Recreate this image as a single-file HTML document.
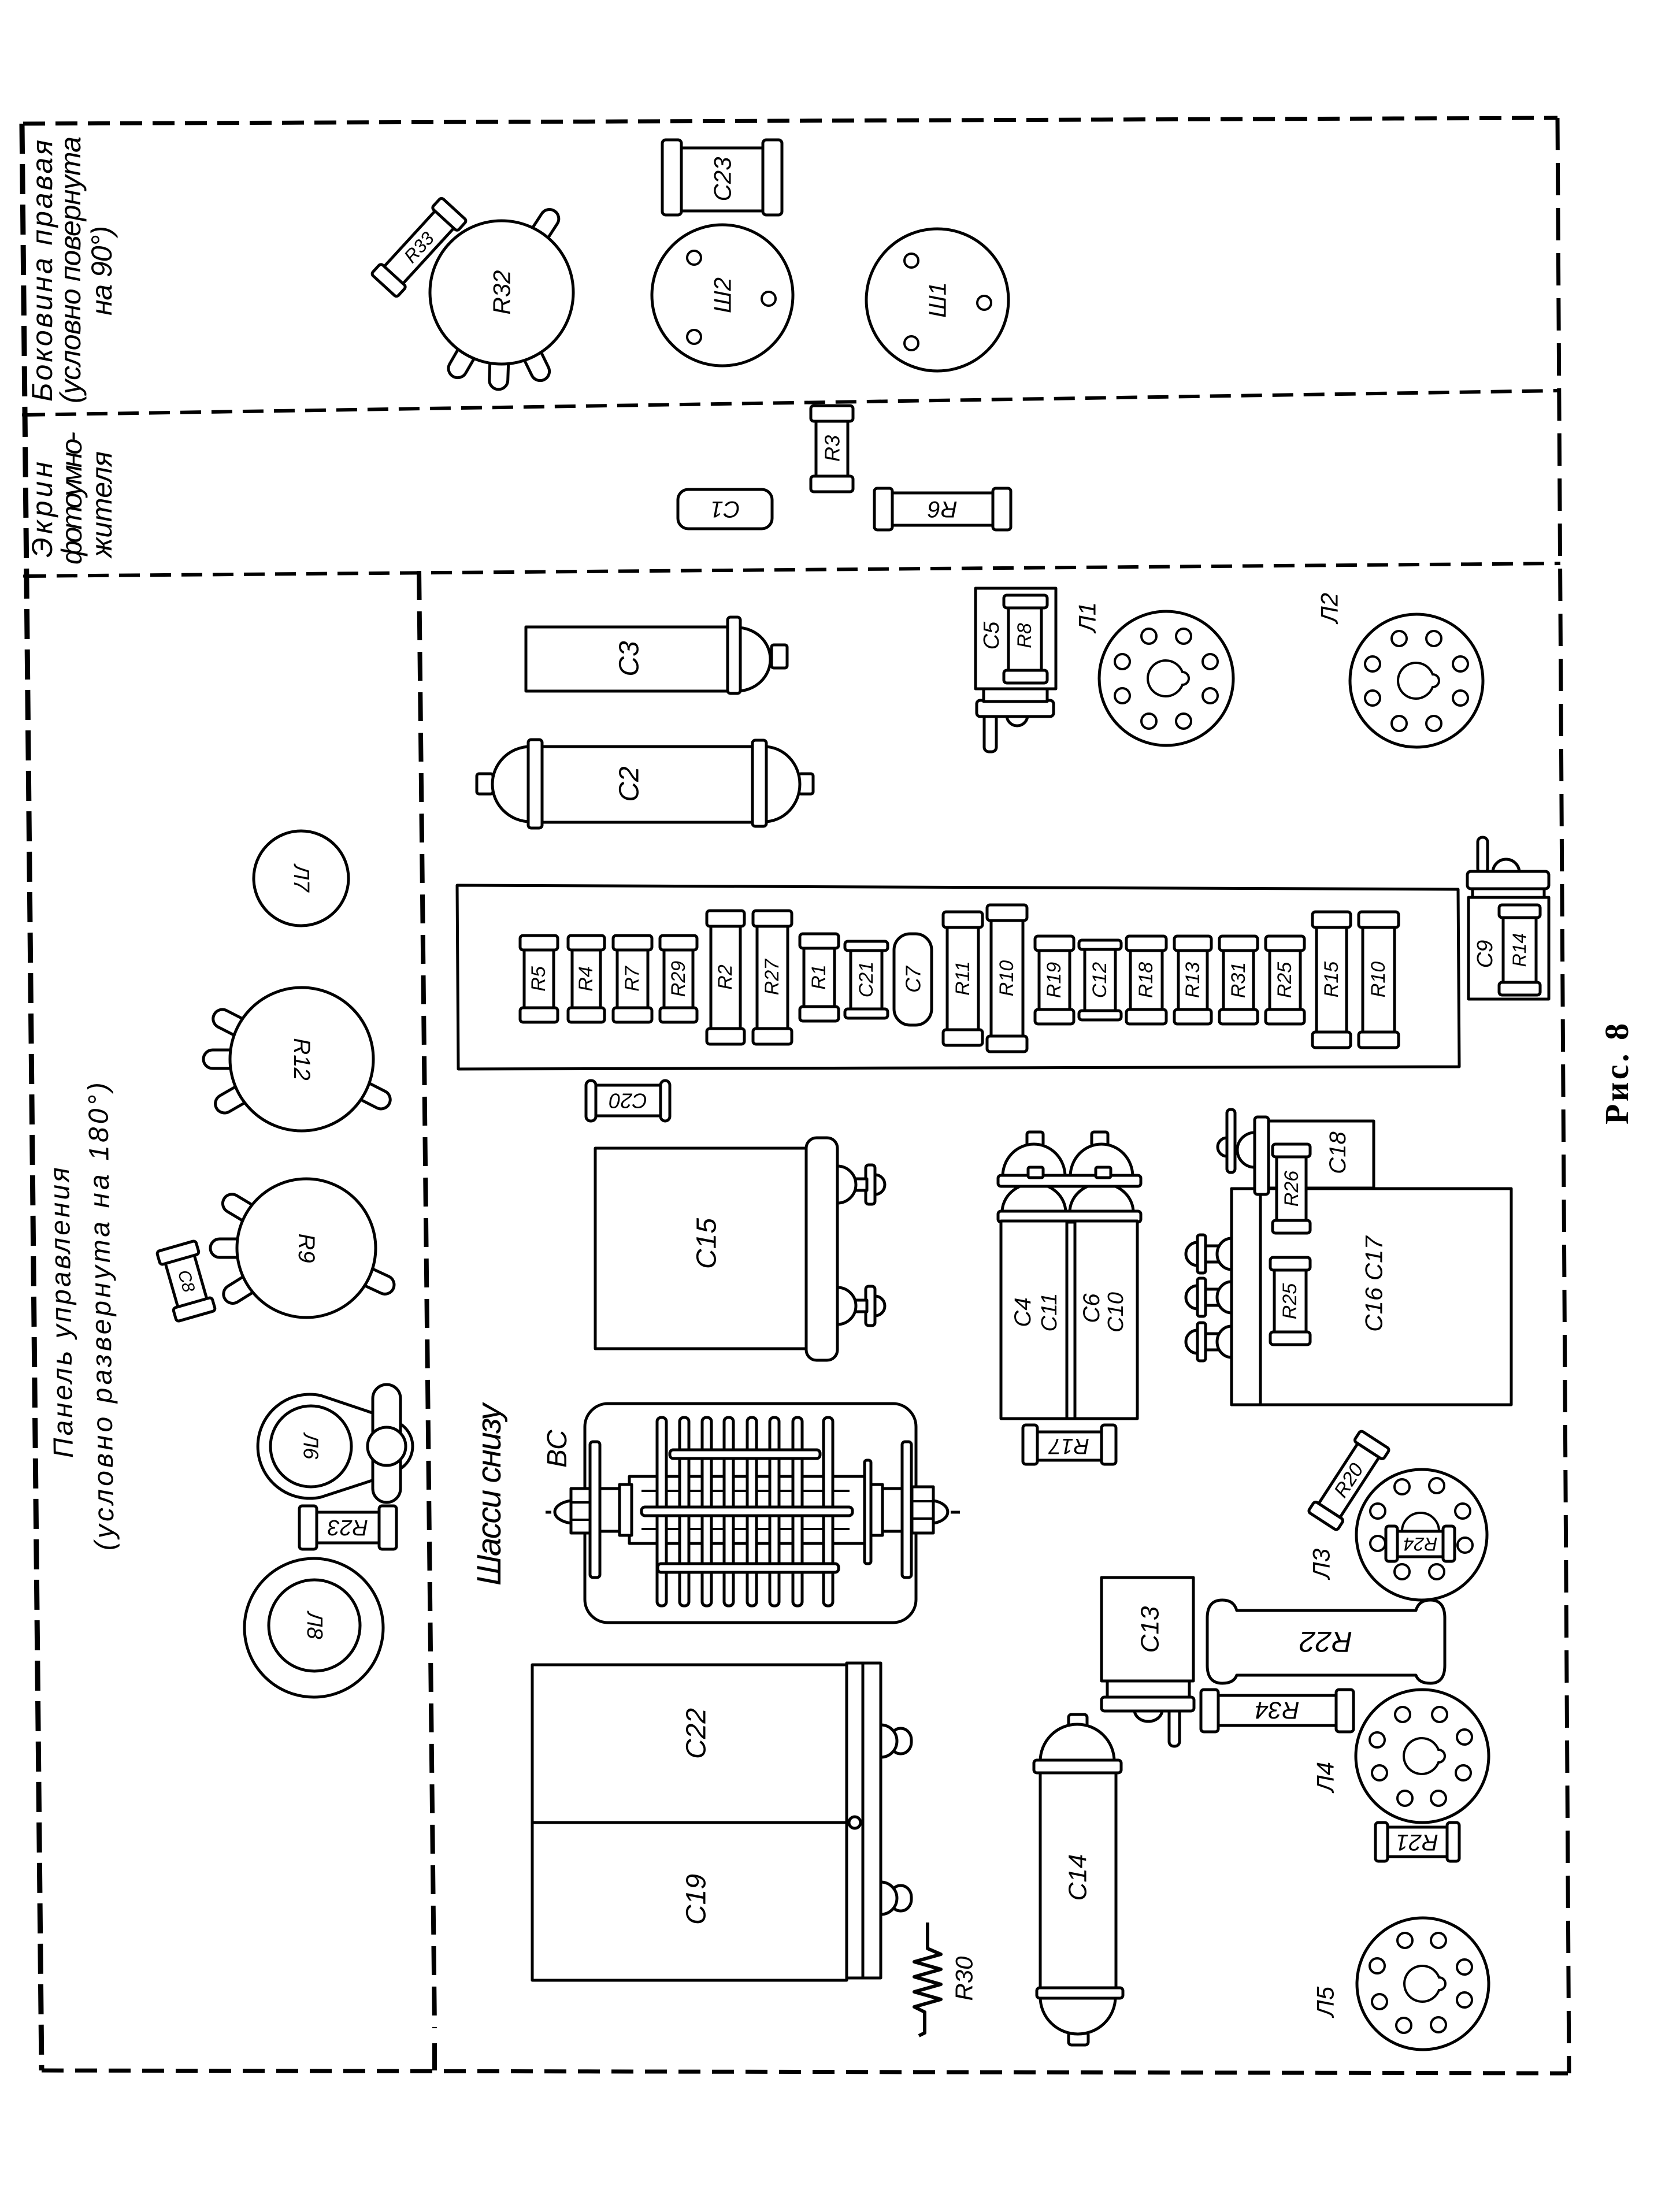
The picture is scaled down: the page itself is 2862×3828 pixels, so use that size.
<!DOCTYPE html>
<html><head><meta charset="utf-8">
<style>
html,body{margin:0;padding:0;background:#fff;}
svg{display:block;}
text{font-family:"Liberation Sans","DejaVu Sans",sans-serif;font-style:italic;fill:#000;}
.c{text-anchor:middle;dominant-baseline:central;}
.k{fill:#fff;stroke:#000;stroke-width:5;stroke-linejoin:round;}
.h{fill:#fff;stroke:#000;stroke-width:4;}
.d{fill:none;stroke:#000;}
</style></head><body>
<svg width="2862" height="3828" viewBox="0 0 2862 3828" xmlns="http://www.w3.org/2000/svg">
<rect width="2862" height="3828" fill="#fff"/>

<!-- FRAME -->
<line class="d" x1="40" y1="214" x2="2695" y2="204" stroke-width="7" stroke-dasharray="38 18"/>
<line class="d" x1="38" y1="214" x2="72" y2="3583" stroke-width="9" stroke-dasharray="52 18"/>
<line class="d" x1="72" y1="3583" x2="2713" y2="3588" stroke-width="7" stroke-dasharray="38 20"/>
<line class="d" x1="2695" y1="204" x2="2715" y2="3588" stroke-width="7" stroke-dasharray="56 22"/>
<line class="d" x1="42" y1="718" x2="2698" y2="676" stroke-width="6" stroke-dasharray="36 18"/>
<line class="d" x1="44" y1="997" x2="2700" y2="975" stroke-width="6" stroke-dasharray="36 18"/>
<line class="d" x1="725" y1="988" x2="752" y2="3510" stroke-width="8" stroke-dasharray="50 20"/>
<line class="d" x1="752" y1="3536" x2="752" y2="3583" stroke-width="8"/>
<line class="d" x1="38" y1="718" x2="60" y2="718" stroke-width="5"/>
<line class="d" x1="40" y1="997" x2="62" y2="997" stroke-width="5"/>

<!-- LEFT LABELS -->
<text transform="translate(90,695) rotate(-90)" font-size="50" textLength="453">Боковина правая</text>
<text transform="translate(139,698) rotate(-90)" font-size="50" textLength="462">(условно повернута</text>
<text transform="translate(193,546) rotate(-90)" font-size="50" textLength="155">на 90°)</text>
<text transform="translate(90,965) rotate(-90)" font-size="50" textLength="166">Экрин</text>
<text transform="translate(141,977) rotate(-90)" font-size="50" textLength="230">фотоумно-</text>
<text transform="translate(193,965) rotate(-90)" font-size="50" textLength="184">жителя</text>
<text transform="translate(126,2523) rotate(-90.8)" font-size="48" textLength="503">Панель управления</text>
<text transform="translate(197,2683) rotate(-90.8)" font-size="48" textLength="810">(условно развернута на 180°)</text>

<!-- C23 -->
<rect class="k" x="1179" y="256" width="141" height="109"/>
<rect class="k" x="1146" y="242" width="33" height="130" rx="6"/>
<rect class="k" x="1320" y="242" width="33" height="130" rx="6"/>
<text class="c" transform="translate(1250,310) rotate(-90)" font-size="42">C23</text>

<!-- R32 -->
<g transform="translate(868,506)">
<rect class="k" x="108" y="-16" width="60" height="32" rx="16" transform="rotate(-57)"/>
<rect class="k" x="108" y="-16" width="60" height="32" rx="16" transform="rotate(64)"/>
<rect class="k" x="108" y="-16" width="60" height="32" rx="16" transform="rotate(92)"/>
<rect class="k" x="108" y="-16" width="60" height="32" rx="16" transform="rotate(120)"/>
<circle class="k" r="124"/>
<text class="c" transform="rotate(-90)" font-size="42">R32</text>
</g>
<!-- R33 -->
<g transform="translate(725,428) rotate(-47.5)">
<rect class="k" x="-66" y="-22" width="132" height="44"/>
<rect class="k" x="-90" y="-30" width="25" height="60" rx="5"/>
<rect class="k" x="65" y="-30" width="25" height="60" rx="5"/>
<text class="c" font-size="32">R33</text>
</g>

<!-- Ш2 / Ш1 -->
<g transform="translate(1250,511)">
<circle class="k" r="122"/>
<circle class="h" cx="-49" cy="-65" r="12"/><circle class="h" cx="80" cy="6" r="12"/><circle class="h" cx="-49" cy="72" r="12"/>
<text class="c" transform="rotate(-90)" font-size="42">Ш2</text>
</g>
<g transform="translate(1622,519)">
<circle class="k" r="123"/>
<circle class="h" cx="-45" cy="-68" r="12"/><circle class="h" cx="81" cy="5" r="12"/><circle class="h" cx="-45" cy="75" r="12"/>
<text class="c" transform="rotate(-90)" font-size="42">Ш1</text>
</g>

<!-- R3, C1, R6 -->
<rect class="k" x="1412" y="727" width="55" height="99"/>
<rect class="k" x="1403" y="702" width="73" height="27" rx="5"/>
<rect class="k" x="1403" y="824" width="73" height="27" rx="5"/>
<text class="c" transform="translate(1440,776) rotate(-90)" font-size="36">R3</text>
<rect class="k" x="1173" y="847" width="163" height="68" rx="18"/>
<text class="c" transform="translate(1255,881) rotate(180)" font-size="40">C1</text>
<rect class="k" x="1542" y="853" width="178" height="56"/>
<rect class="k" x="1513" y="845" width="31" height="72" rx="5"/>
<rect class="k" x="1718" y="845" width="31" height="72" rx="5"/>
<text class="c" transform="translate(1631,881) rotate(180)" font-size="40">R6</text>

<!-- C3 -->
<rect class="k" x="1335" y="1116" width="27" height="40" rx="4"/>
<path class="k" d="M1275,1086 A58 55 0 0 1 1275,1196 Z"/>
<rect class="k" x="910" y="1085" width="351" height="111"/>
<rect class="k" x="1259" y="1068" width="22" height="132" rx="5"/>
<text class="c" transform="translate(1089,1140) rotate(-90)" font-size="48">C3</text>

<!-- C2 -->
<rect class="k" x="825" y="1339" width="28" height="35" rx="4"/>
<rect class="k" x="1382" y="1339" width="25" height="35" rx="4"/>
<path class="k" d="M918,1292 A66 65 0 0 0 918,1422 Z"/>
<path class="k" d="M1322,1292 A62 65 0 0 1 1322,1422 Z"/>
<rect class="k" x="935" y="1292" width="368" height="131"/>
<rect class="k" x="914" y="1280" width="24" height="153" rx="5"/>
<rect class="k" x="1302" y="1281" width="24" height="149" rx="5"/>
<text class="c" transform="translate(1089,1357) rotate(-90)" font-size="48">C2</text>

<!-- C5 / R8 -->
<rect class="k" x="1703" y="1235" width="21" height="66" rx="8"/>
<path class="k" d="M1742,1238 A18 18 0 0 0 1778,1238 Z"/>
<rect class="k" x="1690" y="1212" width="133" height="28" rx="6"/>
<rect class="k" x="1702" y="1190" width="110" height="24"/>
<rect class="k" x="1688" y="1018" width="139" height="174"/>
<rect class="k" x="1745" y="1050" width="57" height="112"/>
<rect class="k" x="1737" y="1030" width="75" height="22" rx="5"/>
<rect class="k" x="1737" y="1160" width="75" height="22" rx="5"/>
<text class="c" transform="translate(1716,1100) rotate(-90)" font-size="38">C5</text>
<text class="c" transform="translate(1773,1100) rotate(-90)" font-size="34">R8</text>

<!-- Sockets Л1 Л2 -->
<g transform="translate(2018,1174)">
<circle class="k" r="116"/>
<circle class="h" cx="-30" cy="-73" r="13"/><circle class="h" cx="30" cy="-73" r="13"/>
<circle class="h" cx="-76" cy="-29" r="13"/><circle class="h" cx="76" cy="-29" r="13"/>
<circle class="h" cx="-76" cy="30" r="13"/><circle class="h" cx="76" cy="30" r="13"/>
<circle class="h" cx="-30" cy="74" r="13"/><circle class="h" cx="30" cy="74" r="13"/>
<path class="h" d="M28,-11 A31 31 0 1 0 28,11 A11 11 0 0 0 28,-11 Z"/>
</g>
<text class="c" transform="translate(1881,1068) rotate(-90)" font-size="42">Л1</text>
<g transform="translate(2451,1178)">
<circle class="k" r="115"/>
<circle class="h" cx="-30" cy="-73" r="13"/><circle class="h" cx="30" cy="-73" r="13"/>
<circle class="h" cx="-76" cy="-29" r="13"/><circle class="h" cx="76" cy="-29" r="13"/>
<circle class="h" cx="-76" cy="30" r="13"/><circle class="h" cx="76" cy="30" r="13"/>
<circle class="h" cx="-30" cy="74" r="13"/><circle class="h" cx="30" cy="74" r="13"/>
<path class="h" d="M28,-11 A31 31 0 1 0 28,11 A11 11 0 0 0 28,-11 Z"/>
</g>
<text class="c" transform="translate(2300,1052) rotate(-90)" font-size="42">Л2</text>

<!-- STRIP -->
<polygon class="k" points="791,1532 2523,1539 2525,1846 793,1850"/>
<rect class="k" x="907" y="1642" width="51" height="104"/><rect class="k" x="900" y="1619" width="65" height="25" rx="5"/><rect class="k" x="900" y="1744" width="65" height="25" rx="5"/>
<text class="c" transform="translate(932,1694) rotate(-90)" font-size="34">R5</text>
<rect class="k" x="990" y="1642" width="49" height="104"/><rect class="k" x="983" y="1619" width="63" height="25" rx="5"/><rect class="k" x="983" y="1744" width="63" height="25" rx="5"/>
<text class="c" transform="translate(1014,1694) rotate(-90)" font-size="34">R4</text>
<rect class="k" x="1068" y="1642" width="53" height="104"/><rect class="k" x="1061" y="1619" width="67" height="25" rx="5"/><rect class="k" x="1061" y="1744" width="67" height="25" rx="5"/>
<text class="c" transform="translate(1094,1694) rotate(-90)" font-size="34">R7</text>
<rect class="k" x="1149" y="1642" width="50" height="104"/><rect class="k" x="1142" y="1619" width="64" height="25" rx="5"/><rect class="k" x="1142" y="1744" width="64" height="25" rx="5"/>
<text class="c" transform="translate(1174,1694) rotate(-90)" font-size="34">R29</text>
<rect class="k" x="1230" y="1601" width="51" height="181"/><rect class="k" x="1223" y="1576" width="65" height="27" rx="5"/><rect class="k" x="1223" y="1780" width="65" height="27" rx="5"/>
<text class="c" transform="translate(1255,1691) rotate(-90)" font-size="34">R2</text>
<rect class="k" x="1310" y="1601" width="53" height="181"/><rect class="k" x="1303" y="1576" width="67" height="27" rx="5"/><rect class="k" x="1303" y="1780" width="67" height="27" rx="5"/>
<text class="c" transform="translate(1336,1691) rotate(-90)" font-size="34">R27</text>
<rect class="k" x="1391" y="1639" width="53" height="105"/><rect class="k" x="1384" y="1616" width="67" height="25" rx="5"/><rect class="k" x="1384" y="1742" width="67" height="25" rx="5"/>
<text class="c" transform="translate(1417,1691) rotate(-90)" font-size="34">R1</text>
<rect class="k" x="1472" y="1643" width="54" height="105"/><rect class="k" x="1462" y="1629" width="74" height="16" rx="5"/><rect class="k" x="1462" y="1746" width="74" height="16" rx="5"/>
<text class="c" transform="translate(1499,1695) rotate(-90)" font-size="34">C21</text>
<rect class="k" x="1547" y="1616" width="65" height="158" rx="28"/>
<text class="c" transform="translate(1580,1695) rotate(-90)" font-size="36">C7</text>
<rect class="k" x="1639" y="1603" width="54" height="183"/><rect class="k" x="1632" y="1578" width="68" height="27" rx="5"/><rect class="k" x="1632" y="1782" width="68" height="27" rx="5"/>
<text class="c" transform="translate(1666,1693) rotate(-90)" font-size="34">R11</text>
<rect class="k" x="1715" y="1591" width="55" height="206"/><rect class="k" x="1708" y="1566" width="69" height="27" rx="5"/><rect class="k" x="1708" y="1793" width="69" height="27" rx="5"/>
<text class="c" transform="translate(1742,1693) rotate(-90)" font-size="34">R10</text>
<rect class="k" x="1798" y="1643" width="53" height="106"/><rect class="k" x="1791" y="1620" width="67" height="25" rx="5"/><rect class="k" x="1791" y="1747" width="67" height="25" rx="5"/>
<text class="c" transform="translate(1824,1696) rotate(-90)" font-size="34">R19</text>
<rect class="k" x="1877" y="1641" width="53" height="110"/><rect class="k" x="1867" y="1627" width="73" height="16" rx="5"/><rect class="k" x="1867" y="1749" width="73" height="16" rx="5"/>
<text class="c" transform="translate(1903,1696) rotate(-90)" font-size="34">C12</text>
<rect class="k" x="1956" y="1643" width="55" height="106"/><rect class="k" x="1949" y="1620" width="69" height="25" rx="5"/><rect class="k" x="1949" y="1747" width="69" height="25" rx="5"/>
<text class="c" transform="translate(1983,1696) rotate(-90)" font-size="34">R18</text>
<rect class="k" x="2039" y="1643" width="50" height="106"/><rect class="k" x="2032" y="1620" width="64" height="25" rx="5"/><rect class="k" x="2032" y="1747" width="64" height="25" rx="5"/>
<text class="c" transform="translate(2064,1696) rotate(-90)" font-size="34">R13</text>
<rect class="k" x="2117" y="1643" width="52" height="106"/><rect class="k" x="2110" y="1620" width="66" height="25" rx="5"/><rect class="k" x="2110" y="1747" width="66" height="25" rx="5"/>
<text class="c" transform="translate(2143,1696) rotate(-90)" font-size="34">R31</text>
<rect class="k" x="2197" y="1643" width="53" height="106"/><rect class="k" x="2190" y="1620" width="67" height="25" rx="5"/><rect class="k" x="2190" y="1747" width="67" height="25" rx="5"/>
<text class="c" transform="translate(2223,1696) rotate(-90)" font-size="34">R25</text>
<rect class="k" x="2278" y="1603" width="52" height="187"/><rect class="k" x="2271" y="1578" width="66" height="27" rx="5"/><rect class="k" x="2271" y="1786" width="66" height="27" rx="5"/>
<text class="c" transform="translate(2304,1695) rotate(-90)" font-size="34">R15</text>
<rect class="k" x="2358" y="1603" width="55" height="187"/><rect class="k" x="2351" y="1578" width="69" height="27" rx="5"/><rect class="k" x="2351" y="1786" width="69" height="27" rx="5"/>
<text class="c" transform="translate(2385,1695) rotate(-90)" font-size="34">R10</text>

<!-- C9 / R14 -->
<rect class="k" x="2557" y="1449" width="17" height="62" rx="8"/>
<path class="k" d="M2583,1510 A23 23 0 0 1 2629,1510 Z"/>
<rect class="k" x="2548" y="1536" width="124" height="19"/>
<rect class="k" x="2539" y="1508" width="141" height="30" rx="6"/>
<rect class="k" x="2541" y="1553" width="139" height="176"/>
<rect class="k" x="2601" y="1586" width="57" height="116"/>
<rect class="k" x="2594" y="1566" width="71" height="22" rx="5"/>
<rect class="k" x="2594" y="1700" width="71" height="22" rx="5"/>
<text class="c" transform="translate(2570,1651) rotate(-90)" font-size="38">C9</text>
<text class="c" transform="translate(2629,1644) rotate(-90)" font-size="32">R14</text>

<!-- C20 -->
<rect class="k" x="1031" y="1878" width="112" height="53"/>
<rect class="k" x="1014" y="1870" width="17" height="70" rx="8"/>
<rect class="k" x="1143" y="1870" width="16" height="70" rx="8"/>
<text class="c" transform="translate(1087,1905) rotate(180)" font-size="36">C20</text>

<!-- C15 -->
<path class="k" d="M1514,2033 A17 17 0 0 1 1514,2067 Z"/>
<rect class="k" x="1498" y="2016" width="16" height="68" rx="5"/>
<rect class="k" x="1478" y="2040" width="22" height="20"/>
<path class="k" d="M1449,2018 A32 32 0 0 1 1449,2082 Z"/>
<path class="k" d="M1514,2243 A17 17 0 0 1 1514,2277 Z"/>
<rect class="k" x="1498" y="2226" width="16" height="68" rx="5"/>
<rect class="k" x="1478" y="2250" width="22" height="20"/>
<path class="k" d="M1449,2228 A32 32 0 0 1 1449,2292 Z"/>
<rect class="k" x="1030" y="1987" width="372" height="347"/>
<rect class="k" x="1395" y="1969" width="54" height="385" rx="18"/>
<text class="c" transform="translate(1223,2152) rotate(-90)" font-size="48">C15</text>

<!-- Шасси снизу / ВС -->
<text transform="translate(866,2744) rotate(-90)" font-size="58" textLength="315">Шасси снизу</text>
<text transform="translate(980,2540) rotate(-90)" font-size="48">ВС</text>

<!-- ВС variable capacitor -->
<rect class="k" x="1012" y="2429" width="573" height="379" rx="40"/>
<rect class="k" x="1021" y="2495" width="17" height="235" rx="5"/>
<rect class="k" x="1561" y="2495" width="16" height="235" rx="5"/>
<rect class="k" x="1089" y="2555" width="407" height="116"/>
<line class="d" x1="1110" y1="2580" x2="1470" y2="2580" stroke-width="4"/>
<line class="d" x1="1110" y1="2646" x2="1470" y2="2646" stroke-width="4"/>
<rect class="k" x="1137" y="2453" width="16" height="326" rx="7"/>
<rect class="k" x="1176" y="2453" width="16" height="326" rx="7"/>
<rect class="k" x="1215" y="2453" width="16" height="326" rx="7"/>
<rect class="k" x="1253" y="2453" width="16" height="326" rx="7"/>
<rect class="k" x="1293" y="2453" width="16" height="326" rx="7"/>
<rect class="k" x="1332" y="2453" width="16" height="326" rx="7"/>
<rect class="k" x="1372" y="2453" width="16" height="326" rx="7"/>
<rect class="k" x="1425" y="2453" width="16" height="326" rx="7"/>
<rect class="k" x="1159" y="2509" width="260" height="15" rx="6"/>
<rect class="k" x="1110" y="2608" width="365" height="15" rx="6"/>
<rect class="k" x="1138" y="2706" width="313" height="15" rx="6"/>
<rect class="k" x="1072" y="2569" width="21" height="88"/>
<rect class="k" x="1038" y="2576" width="34" height="74"/>
<rect class="k" x="988" y="2576" width="33" height="77"/>
<line class="d" x1="988" y1="2600" x2="1021" y2="2600" stroke-width="4"/>
<line class="d" x1="988" y1="2630" x2="1021" y2="2630" stroke-width="4"/>
<path class="k" d="M988,2597 A36 20 0 0 0 988,2636 Z"/>
<line class="d" x1="944" y1="2617" x2="954" y2="2617" stroke-width="5"/>
<rect class="k" x="1496" y="2527" width="11" height="179" rx="4"/>
<rect class="k" x="1507" y="2569" width="20" height="88"/>
<rect class="k" x="1527" y="2576" width="34" height="74"/>
<rect class="k" x="1578" y="2573" width="37" height="80"/>
<line class="d" x1="1578" y1="2598" x2="1615" y2="2598" stroke-width="4"/>
<line class="d" x1="1578" y1="2628" x2="1615" y2="2628" stroke-width="4"/>
<path class="k" d="M1615,2597 A32 20 0 0 1 1615,2636 Z"/>
<line class="d" x1="1645" y1="2617" x2="1661" y2="2617" stroke-width="5"/>

<!-- C22 / C19 -->
<rect class="k" x="1540" y="2991" width="37" height="44" rx="20"/>
<path class="k" d="M1524,2985 A28 28 0 0 1 1524,3041 Z"/>
<rect class="k" x="1540" y="3263" width="37" height="44" rx="20"/>
<path class="k" d="M1524,3257 A28 28 0 0 1 1524,3313 Z"/>
<rect class="k" x="921" y="2881" width="544" height="546"/>
<line class="d" x1="921" y1="3154" x2="1465" y2="3154" stroke-width="5"/>
<rect class="k" x="1465" y="2878" width="28" height="545"/>
<rect class="k" x="1493" y="2878" width="31" height="545"/>
<circle class="k" cx="1479" cy="3154" r="10"/>
<text class="c" transform="translate(1205,3000) rotate(-90)" font-size="48">C22</text>
<text class="c" transform="translate(1205,3287) rotate(-90)" font-size="48">C19</text>

<!-- R30 -->
<polyline class="d" stroke-width="6" stroke-linejoin="round" points="1605,3327 1605,3372 1628,3382 1582,3395 1628,3408 1582,3421 1628,3434 1582,3447 1628,3460 1582,3473 1600,3482 1600,3518 1590,3523"/>
<text class="c" transform="translate(1668,3424) rotate(-90)" font-size="42">R30</text>

<!-- C4/C11 C6/C10 block -->
<path class="k" d="M1734,2098 A55 50 0 0 1 1844,2098 Z"/>
<path class="k" d="M1851,2098 A55 50 0 0 1 1961,2098 Z"/>
<rect class="k" x="1777" y="1959" width="28" height="24" rx="4"/>
<rect class="k" x="1889" y="1959" width="28" height="24" rx="4"/>
<path class="k" d="M1735,2036 A54 56 0 0 1 1843,2036 Z"/>
<path class="k" d="M1852,2036 A54 56 0 0 1 1960,2036 Z"/>
<rect class="k" x="1727" y="2034" width="247" height="19" rx="5"/>
<rect class="k" x="1779" y="2020" width="26" height="18" rx="3"/>
<rect class="k" x="1896" y="2020" width="26" height="18" rx="3"/>
<rect class="k" x="1727" y="2096" width="247" height="19" rx="5"/>
<rect class="k" x="1732" y="2113" width="236" height="342"/>
<rect class="k" x="1846" y="2115" width="14" height="340"/>
<text class="c" transform="translate(1770,2271) rotate(-90)" font-size="40">C4</text>
<text class="c" transform="translate(1816,2271) rotate(-90)" font-size="38">C11</text>
<text class="c" transform="translate(1889,2264) rotate(-90)" font-size="40">C6</text>
<text class="c" transform="translate(1931,2271) rotate(-90)" font-size="38">C10</text>

<!-- R17 -->
<rect class="k" x="1793" y="2478" width="115" height="49"/>
<rect class="k" x="1770" y="2466" width="25" height="68" rx="5"/>
<rect class="k" x="1906" y="2466" width="25" height="68" rx="5"/>
<text class="c" transform="translate(1850,2502) rotate(180)" font-size="38">R17</text>

<!-- C16 C17 terminals -->
<path class="k" d="M2072,2150 A20 20 0 0 0 2072,2190 Z"/>
<rect class="k" x="2072" y="2137" width="14" height="66" rx="4"/>
<rect class="k" x="2086" y="2156" width="30" height="28"/>
<path class="k" d="M2131,2143 A25 27 0 0 0 2131,2197 Z"/>
<path class="k" d="M2072,2225 A20 20 0 0 0 2072,2265 Z"/>
<rect class="k" x="2072" y="2212" width="14" height="66" rx="4"/>
<rect class="k" x="2086" y="2231" width="30" height="28"/>
<path class="k" d="M2131,2218 A25 27 0 0 0 2131,2272 Z"/>
<path class="k" d="M2072,2302 A20 20 0 0 0 2072,2342 Z"/>
<rect class="k" x="2072" y="2289" width="14" height="66" rx="4"/>
<rect class="k" x="2086" y="2308" width="30" height="28"/>
<path class="k" d="M2131,2295 A25 27 0 0 0 2131,2349 Z"/>
<rect class="k" x="2131" y="2057" width="484" height="374"/>
<rect class="k" x="2131" y="2057" width="50" height="374"/>
<!-- C18 -->
<rect class="k" x="2188" y="1940" width="189" height="116"/>
<path class="k" d="M2171,1960 A30 30 0 0 0 2171,2020 Z"/>
<rect class="k" x="2123" y="1920" width="14" height="109" rx="6"/>
<path class="k" d="M2123,1969 A16 16 0 0 0 2123,2001 Z"/>
<rect class="k" x="2171" y="1933" width="24" height="134" rx="5"/>
<rect class="k" x="2209" y="2000" width="51" height="114"/>
<rect class="k" x="2202" y="1980" width="65" height="22" rx="5"/>
<rect class="k" x="2202" y="2112" width="65" height="22" rx="5"/>
<rect class="k" x="2205" y="2196" width="55" height="111"/>
<rect class="k" x="2198" y="2176" width="69" height="22" rx="5"/>
<rect class="k" x="2198" y="2305" width="69" height="22" rx="5"/>
<text class="c" transform="translate(2315,1995) rotate(-90)" font-size="40">C18</text>
<text class="c" transform="translate(2235,2057) rotate(-90)" font-size="34">R26</text>
<text class="c" transform="translate(2232,2252) rotate(-90)" font-size="34">R25</text>
<text class="c" transform="translate(2377,2222) rotate(-90)" font-size="42">C16 C17</text>

<!-- R20 -->
<g transform="translate(2334,2562) rotate(-57)">
<rect class="k" x="-62" y="-22" width="124" height="44"/>
<rect class="k" x="-84" y="-30" width="22" height="60" rx="5"/>
<rect class="k" x="62" y="-30" width="22" height="60" rx="5"/>
<text class="c" font-size="34">R20</text>
</g>

<!-- Л3 + R24 -->
<g transform="translate(2460,2656)">
<circle class="k" r="113"/>
<circle class="h" cx="-34" cy="-83" r="13"/><circle class="h" cx="26" cy="-85" r="13"/>
<circle class="h" cx="-76" cy="-41" r="13"/><circle class="h" cx="71" cy="-41" r="13"/>
<circle class="h" cx="-76" cy="15" r="13"/><circle class="h" cx="75" cy="18" r="13"/>
<circle class="h" cx="-34" cy="64" r="13"/><circle class="h" cx="26" cy="64" r="13"/>
<circle class="h" cx="-2" cy="-6" r="32"/>
</g>
<rect class="k" x="2416" y="2650" width="83" height="44"/>
<rect class="k" x="2398" y="2641" width="20" height="61" rx="5"/>
<rect class="k" x="2497" y="2641" width="20" height="61" rx="5"/>
<text class="c" transform="translate(2458,2672) rotate(180)" font-size="32">R24</text>
<text class="c" transform="translate(2286,2706) rotate(-90)" font-size="42">Л3</text>

<!-- C13 -->
<rect class="k" x="2023" y="2955" width="18" height="67" rx="8"/>
<path class="k" d="M1963,2959 A24 20 0 0 0 2011,2959 Z"/>
<rect class="k" x="1916" y="2907" width="142" height="32"/>
<rect class="k" x="1906" y="2937" width="160" height="24" rx="5"/>
<rect class="k" x="1906" y="2730" width="159" height="179"/>
<text class="c" transform="translate(1990,2820) rotate(-90)" font-size="44">C13</text>

<!-- R22 -->
<path class="k" d="M2089,2800 Q2089,2769 2115,2769 Q2135,2769 2140,2787 L2450,2787 Q2455,2769 2475,2769 Q2500,2769 2500,2800 L2500,2882 Q2500,2913 2475,2913 Q2455,2913 2450,2899 L2140,2899 Q2135,2913 2115,2913 Q2089,2913 2089,2882 Z"/>
<text class="c" transform="translate(2294,2841) rotate(180)" font-size="50">R22</text>

<!-- R34 -->
<rect class="k" x="2106" y="2934" width="208" height="52"/>
<rect class="k" x="2078" y="2924" width="30" height="73" rx="5"/>
<rect class="k" x="2312" y="2924" width="30" height="73" rx="5"/>
<text class="c" transform="translate(2210,2960) rotate(180)" font-size="42">R34</text>

<!-- Л4 -->
<g transform="translate(2461,3039)">
<circle class="k" r="115"/>
<circle class="h" cx="-34" cy="-72" r="13"/><circle class="h" cx="30" cy="-72" r="13"/>
<circle class="h" cx="-78" cy="-28" r="13"/><circle class="h" cx="73" cy="-33" r="13"/>
<circle class="h" cx="-74" cy="29" r="13"/><circle class="h" cx="71" cy="29" r="13"/>
<circle class="h" cx="-30" cy="73" r="13"/><circle class="h" cx="28" cy="73" r="13"/>
<path class="h" d="M28,-11 A31 31 0 1 0 28,11 A11 11 0 0 0 28,-11 Z"/>
</g>
<text class="c" transform="translate(2293,3075) rotate(-90)" font-size="42">Л4</text>

<!-- R21 -->
<rect class="k" x="2399" y="3162" width="107" height="51"/>
<rect class="k" x="2380" y="3154" width="21" height="67" rx="5"/>
<rect class="k" x="2504" y="3154" width="21" height="67" rx="5"/>
<text class="c" transform="translate(2452,3188) rotate(180)" font-size="40">R21</text>

<!-- Л5 -->
<g transform="translate(2462,3433)">
<circle class="k" r="114"/>
<circle class="h" cx="-31" cy="-75" r="13"/><circle class="h" cx="27" cy="-75" r="13"/>
<circle class="h" cx="-79" cy="-31" r="13"/><circle class="h" cx="72" cy="-29" r="13"/>
<circle class="h" cx="-75" cy="31" r="13"/><circle class="h" cx="72" cy="28" r="13"/>
<circle class="h" cx="-33" cy="72" r="13"/><circle class="h" cx="27" cy="71" r="13"/>
<path class="h" d="M28,-11 A31 31 0 1 0 28,11 A11 11 0 0 0 28,-11 Z"/>
</g>
<text class="c" transform="translate(2293,3464) rotate(-90)" font-size="42">Л5</text>

<!-- C14 -->
<rect class="k" x="1849" y="2967" width="32" height="22" rx="5"/>
<path class="k" d="M1800,3048 A64 64 0 0 1 1928,3048 Z"/>
<rect class="k" x="1849" y="3517" width="34" height="22" rx="5"/>
<path class="k" d="M1800,3456 A65 64 0 0 0 1930,3456 Z"/>
<rect class="k" x="1800" y="3062" width="131" height="380"/>
<rect class="k" x="1789" y="3046" width="151" height="22" rx="5"/>
<rect class="k" x="1794" y="3440" width="149" height="18" rx="5"/>
<text class="c" transform="translate(1865,3249) rotate(-90)" font-size="44">C14</text>

<!-- PANEL components -->
<circle class="k" cx="521" cy="1520" r="82"/>
<text class="c" transform="translate(521,1520) rotate(90)" font-size="38">Л7</text>

<g transform="translate(522,1833)">
<rect class="k" x="108" y="-16" width="62" height="32" rx="16" transform="rotate(-153)"/>
<rect class="k" x="108" y="-16" width="62" height="32" rx="16" transform="rotate(180)"/>
<rect class="k" x="108" y="-16" width="62" height="32" rx="16" transform="rotate(150)"/>
<rect class="k" x="108" y="-16" width="62" height="32" rx="16" transform="rotate(27)"/>
<circle class="k" r="124"/>
<text class="c" transform="rotate(90)" font-size="40">R12</text>
</g>

<g transform="translate(530,2160)">
<rect class="k" x="104" y="-16" width="62" height="32" rx="16" transform="rotate(-149)"/>
<rect class="k" x="104" y="-16" width="62" height="32" rx="16" transform="rotate(180)"/>
<rect class="k" x="104" y="-16" width="62" height="32" rx="16" transform="rotate(148)"/>
<rect class="k" x="104" y="-16" width="62" height="32" rx="16" transform="rotate(25)"/>
<circle class="k" r="120"/>
<text class="c" transform="rotate(90)" font-size="40">R9</text>
</g>

<g transform="translate(322,2217) rotate(-16)">
<rect class="k" x="-26" y="-42" width="52" height="84"/>
<rect class="k" x="-35" y="-63" width="70" height="24" rx="5"/>
<rect class="k" x="-35" y="39" width="70" height="24" rx="5"/>
<text class="c" transform="rotate(90)" font-size="30">C8</text>
</g>

<!-- Л6 -->
<circle class="k" cx="668" cy="2503" r="46"/>
<path class="k" d="M650,2447 L555,2415 A90 90 0 1 0 555,2591 L650,2560 Z"/>
<circle class="k" cx="538" cy="2503" r="70"/>
<rect class="k" x="645" y="2396" width="48" height="204" rx="24"/>
<circle class="k" cx="669" cy="2503" r="33"/>
<text class="c" transform="translate(538,2503) rotate(90)" font-size="36">Л6</text>

<!-- R23 -->
<rect class="k" x="546" y="2617" width="112" height="53"/>
<rect class="k" x="518" y="2606" width="30" height="75" rx="5"/>
<rect class="k" x="656" y="2606" width="30" height="75" rx="5"/>
<text class="c" transform="translate(602,2643) rotate(180)" font-size="38">R23</text>

<!-- Л8 -->
<circle class="k" cx="543" cy="2817" r="120"/>
<circle class="k" cx="544" cy="2813" r="79"/>
<text class="c" transform="translate(544,2813) rotate(90)" font-size="38">Л8</text>

<!-- Рис. 8 -->
<text transform="translate(2817,1946) rotate(-90)" font-size="58" textLength="175" style="font-family:'Liberation Serif','DejaVu Serif',serif;font-style:normal;font-weight:bold">Рис. 8</text>

</svg>
</body></html>
